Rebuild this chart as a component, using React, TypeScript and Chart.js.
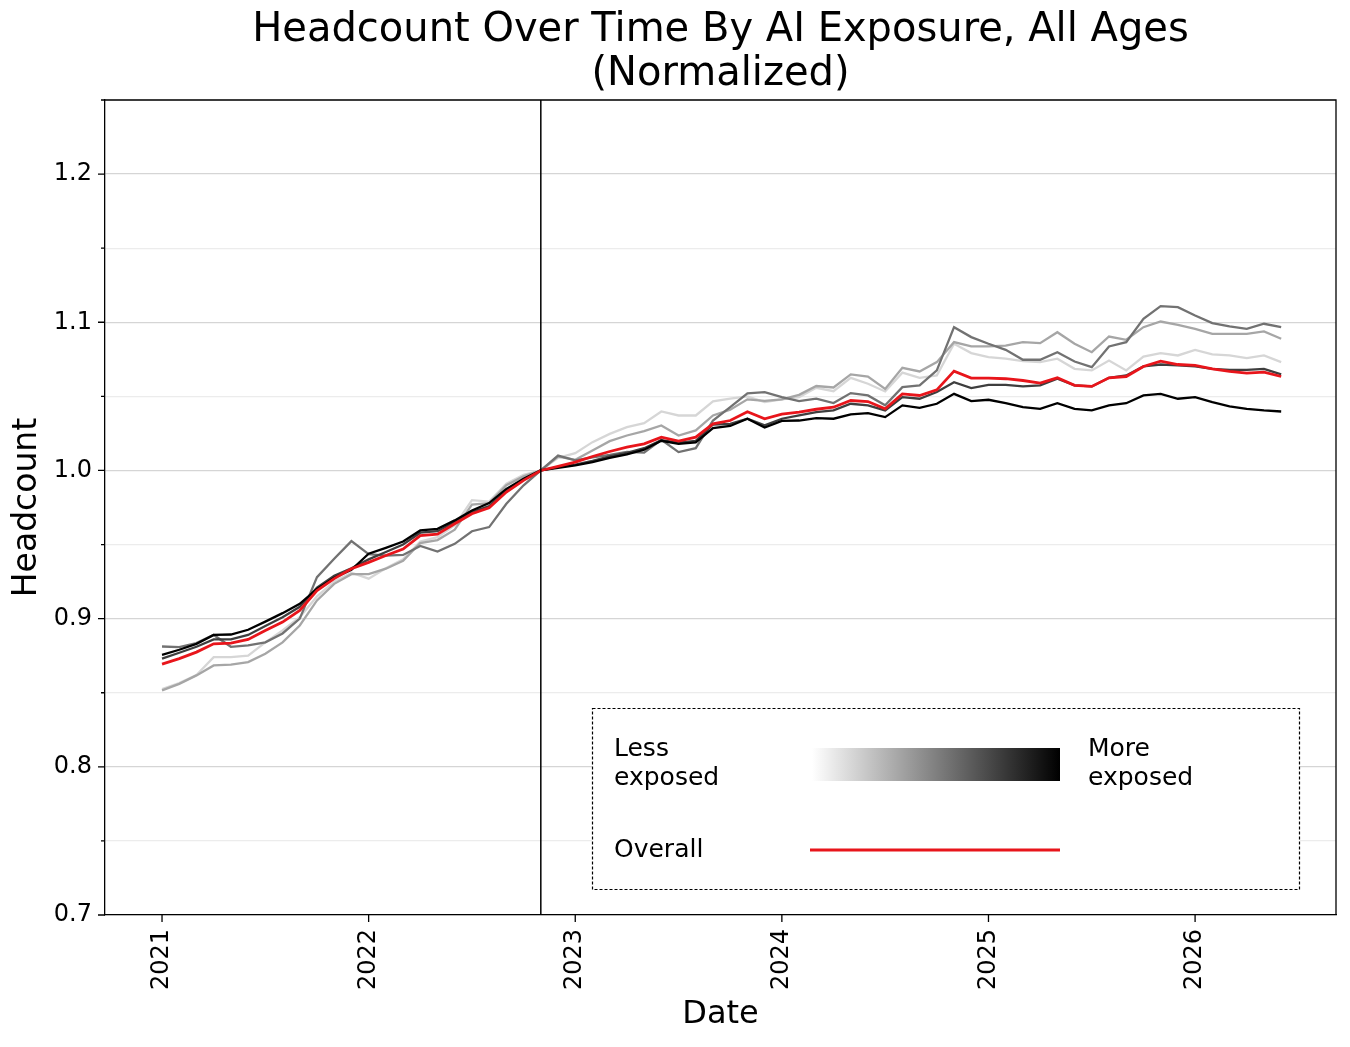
import { useEffect, useRef } from "react"
import { Chart, registerables } from "chart.js"

Chart.register(...registerables)

const FONT = "DejaVu Sans"

const TITLE = ["Headcount Over Time By AI Exposure, All Ages", "(Normalized)"]
const X_TITLE = "Date"
const Y_TITLE = "Headcount"
const LEGEND_LESS = ["Less", "exposed"]
const LEGEND_MORE = ["More", "exposed"]
const LEGEND_OVERALL = "Overall"

// monthly points, Jan 2021 .. Jun 2026
const MONTHS = Array.from(
  { length: 66 },
  (_, i) => `${2021 + Math.floor(i / 12)}-${String((i % 12) + 1).padStart(2, "0")}`
)
const BASE_MONTH = "2022-11" // everything normalized to 1.0 here
const YEAR_TICKS = [2021, 2022, 2023, 2024, 2025, 2026]
const Y_TICKS = [0.7, 0.75, 0.8, 0.85, 0.9, 0.95, 1.0, 1.05, 1.1, 1.15, 1.2, 1.25]
const Y_TICK_LABELS = ["0.7", "", "0.8", "", "0.9", "", "1.0", "", "1.1", "", "1.2", ""]

// exposure groups, least exposed first
const EXPOSURE_1 = [
  0.8525, 0.8565, 0.862, 0.874, 0.874, 0.875, 0.884, 0.892, 0.901, 0.915, 0.925, 0.931,
  0.927, 0.934, 0.94, 0.952, 0.955, 0.963, 0.98, 0.979, 0.991, 0.997, 1.0,
  1.0085, 1.0117, 1.0191, 1.0247, 1.0292, 1.0319, 1.0398, 1.0371, 1.0371, 1.0466, 1.0484, 1.05,
  1.0461, 1.0479, 1.0495, 1.0558, 1.0535, 1.0625, 1.0585, 1.0533, 1.066, 1.0625, 1.0642, 1.0855,
  1.0792, 1.0765, 1.0754, 1.0738, 1.0731, 1.0754, 1.0686, 1.0675, 1.0742, 1.0675, 1.0769, 1.0792,
  1.0776, 1.0814, 1.0783, 1.0776, 1.0758, 1.0776, 1.0731,
]
const EXPOSURE_2 = [
  0.8516, 0.856, 0.8617, 0.8684, 0.869, 0.8707, 0.8763, 0.884, 0.8954, 0.9123, 0.9235, 0.93,
  0.93, 0.9337, 0.939, 0.951, 0.953, 0.96, 0.977, 0.978, 0.99, 0.996, 1.0,
  1.0094, 1.0072, 1.0135, 1.0198, 1.0236, 1.0265, 1.0304, 1.0236, 1.027, 1.0371, 1.041, 1.048,
  1.047, 1.048, 1.051, 1.057, 1.056, 1.0648, 1.0634, 1.055, 1.0693, 1.0668, 1.0731, 1.0866,
  1.0837, 1.0837, 1.0843, 1.0866, 1.0859, 1.0933, 1.0855, 1.0798, 1.0904, 1.0882, 1.0967, 1.1005,
  1.0983, 1.0956, 1.0922, 1.0922, 1.0922, 1.0938, 1.0889,
]
const EXPOSURE_3 = [
  0.8812, 0.8808, 0.8835, 0.889, 0.881, 0.882, 0.884, 0.89, 0.9, 0.928, 0.9404, 0.9523,
  0.9435, 0.9425, 0.943, 0.949, 0.9453, 0.9505, 0.959, 0.9618, 0.9775, 0.99, 1.0,
  1.01, 1.0068, 1.0088, 1.0105, 1.0125, 1.012, 1.0207, 1.0124, 1.015, 1.0337, 1.0427, 1.052,
  1.0529, 1.0495, 1.0468, 1.0484, 1.0455, 1.0522, 1.0506, 1.044, 1.0562, 1.0574, 1.0675, 1.0967,
  1.09, 1.0855, 1.0814, 1.0747, 1.0747, 1.0798, 1.0735, 1.0697, 1.0837, 1.0866, 1.1023, 1.1109,
  1.1102, 1.1046, 1.0994, 1.0972, 1.0956, 1.099, 1.0967,
]
const EXPOSURE_4 = [
  0.873, 0.877, 0.881, 0.886, 0.886, 0.889, 0.895, 0.901, 0.908, 0.921, 0.929, 0.934,
  0.94, 0.945, 0.95, 0.958, 0.959, 0.965, 0.972, 0.976, 0.986, 0.994, 1.0,
  1.0022, 1.004, 1.0064, 1.0095, 1.0118, 1.015, 1.0205, 1.0188, 1.02, 1.031, 1.0315, 1.0349,
  1.0304, 1.0349, 1.0371, 1.0394, 1.0405, 1.045, 1.0439, 1.0405, 1.0495, 1.0484, 1.0529, 1.0596,
  1.0556, 1.0578, 1.0578, 1.0567, 1.0574, 1.0619, 1.0574, 1.0567, 1.0625, 1.0641, 1.0702, 1.0715,
  1.0709, 1.0702, 1.0686, 1.0679, 1.0679, 1.0686, 1.0648,
]
const EXPOSURE_5 = [
  0.8756, 0.879, 0.883, 0.889, 0.8893, 0.8925, 0.898, 0.9037, 0.91, 0.92, 0.9276, 0.933,
  0.9438, 0.9478, 0.952, 0.9595, 0.9606, 0.9663, 0.973, 0.978, 0.9876, 0.9944, 1.0,
  1.0018, 1.0034, 1.0056, 1.0085, 1.0108, 1.014, 1.02, 1.018, 1.019, 1.0285, 1.03, 1.0349,
  1.029, 1.0335, 1.0337, 1.0353, 1.0349, 1.0378, 1.0387, 1.036, 1.0439, 1.0423, 1.045, 1.0517,
  1.0468, 1.0477, 1.0454, 1.0427, 1.0416, 1.0454, 1.0416, 1.0405, 1.0439, 1.0454, 1.0506, 1.0517,
  1.0484, 1.0495, 1.0461, 1.0432, 1.0416, 1.0405, 1.0398,
]
const OVERALL = [
  0.8693, 0.873, 0.8774, 0.883, 0.8835, 0.886, 0.892, 0.8977, 0.9055, 0.919, 0.927, 0.9337,
  0.938, 0.9426, 0.947, 0.956, 0.957, 0.964, 0.9708, 0.9748, 0.9854, 0.9933, 1.0,
  1.0027, 1.0056, 1.0094, 1.0128, 1.0157, 1.018, 1.0225, 1.0198, 1.0225, 1.0315, 1.0337, 1.0396,
  1.0349, 1.038, 1.0394, 1.0413, 1.0427, 1.0472, 1.0465, 1.0416, 1.0517, 1.0506, 1.0544, 1.067,
  1.0623, 1.0623, 1.0619, 1.0607, 1.059, 1.0625, 1.0574, 1.0567, 1.0625, 1.0634, 1.0702, 1.0738,
  1.0715, 1.0709, 1.0686, 1.0668, 1.0657, 1.0664, 1.0634,
]

const GREYS = ["#d6d6d6", "#a6a6a6", "#727272", "#3e3e3e", "#000000"]
const RED = "#e8151b"

const toYear = (m: string) => Number(m.slice(0, 4)) + (Number(m.slice(5, 7)) - 1) / 12
const isMajor = (v: number) => Math.abs(v * 10 - Math.round(v * 10)) < 1e-6

function series(values: number[]) {
  return values.map((y, i) => ({ x: toYear(MONTHS[i]), y }))
}

const decorPlugin = {
  id: "decor",
  afterDatasetsDraw(chart: any) {
    const { ctx, chartArea: a, scales } = chart
    const bx = scales.x.getPixelForValue(toYear(BASE_MONTH))
    ctx.save()
    ctx.strokeStyle = "#000"
    ctx.lineWidth = 1.5
    ctx.beginPath()
    ctx.moveTo(bx, a.top)
    ctx.lineTo(bx, a.bottom)
    ctx.stroke()
    ctx.restore()
  },
  afterDraw(chart: any) {
    const { ctx, chartArea: a, scales } = chart
    const cx = (a.left + a.right) / 2
    ctx.save()

    // top/right spines
    ctx.strokeStyle = "#000"
    ctx.lineWidth = 1.3
    ctx.beginPath()
    ctx.moveTo(a.left, a.top)
    ctx.lineTo(a.right, a.top)
    ctx.lineTo(a.right, a.bottom)
    ctx.stroke()

    // tick marks
    ctx.beginPath()
    Y_TICKS.forEach((v) => {
      const py = scales.y.getPixelForValue(v)
      ctx.moveTo(a.left - (isMajor(v) ? 7 : 4), py)
      ctx.lineTo(a.left, py)
    })
    YEAR_TICKS.forEach((v) => {
      const px = scales.x.getPixelForValue(v)
      ctx.moveTo(px, a.bottom)
      ctx.lineTo(px, a.bottom + 7)
    })
    ctx.stroke()

    // titles
    ctx.fillStyle = "#000"
    ctx.textAlign = "center"
    ctx.textBaseline = "middle"
    ctx.font = `40px "${FONT}"`
    ctx.fillText(TITLE[0], cx, 31)
    ctx.fillText(TITLE[1], cx, 75)
    ctx.font = `32px "${FONT}"`
    ctx.fillText(X_TITLE, cx, 1015)
    ctx.save()
    ctx.translate(27, (a.top + a.bottom) / 2)
    ctx.rotate(-Math.PI / 2)
    ctx.font = `33px "${FONT}"`
    ctx.fillText(Y_TITLE, 0, 0)
    ctx.restore()

    // legend box
    ctx.fillStyle = "#fff"
    ctx.fillRect(592, 708, 708, 182)
    ctx.setLineDash([3, 2])
    ctx.lineWidth = 1.2
    ctx.strokeStyle = "#000"
    ctx.strokeRect(592.5, 708.5, 707, 181)
    ctx.setLineDash([])

    ctx.fillStyle = "#000"
    ctx.textAlign = "left"
    ctx.font = `25px "${FONT}"`
    ctx.fillText(LEGEND_LESS[0], 614, 749)
    ctx.fillText(LEGEND_LESS[1], 614, 778)
    ctx.fillText(LEGEND_MORE[0], 1088, 749)
    ctx.fillText(LEGEND_MORE[1], 1088, 778)
    ctx.fillText(LEGEND_OVERALL, 614, 850)

    const grad = ctx.createLinearGradient(812, 0, 1060, 0)
    grad.addColorStop(0, "#ffffff")
    grad.addColorStop(1, "#000000")
    ctx.fillStyle = grad
    ctx.fillRect(812, 748, 248, 33)

    ctx.strokeStyle = RED
    ctx.lineWidth = 3
    ctx.beginPath()
    ctx.moveTo(810, 850)
    ctx.lineTo(1060, 850)
    ctx.stroke()

    ctx.restore()
  },
}

export default function App() {
  const chartRef = useRef<HTMLCanvasElement>(null)
  const chartInstance = useRef<Chart | null>(null)

  useEffect(() => {
    if (!chartRef.current) return
    if (chartInstance.current) chartInstance.current.destroy()

    const ctx = chartRef.current.getContext("2d")
    if (!ctx) return

    Chart.defaults.font.family = FONT
    Chart.defaults.color = "#000"

    const groups = [EXPOSURE_1, EXPOSURE_2, EXPOSURE_3, EXPOSURE_4, EXPOSURE_5]

    chartInstance.current = new Chart(ctx, {
      type: "line",
      data: {
        datasets: [
          {
            label: "Overall",
            data: series(OVERALL),
            borderColor: RED,
            borderWidth: 2.8,
            order: 0,
          },
          ...groups.map((g, i) => ({
            label: `Exposure ${i + 1}`,
            data: series(g),
            borderColor: GREYS[i],
            borderWidth: 2.3,
            order: groups.length - i,
          })),
        ],
      },
      options: {
        animation: false,
        responsive: false,
        events: [],
        layout: { padding: { top: 100, right: 14, left: 0, bottom: 0 } },
        elements: { point: { radius: 0 }, line: { tension: 0 } },
        plugins: {
          legend: { display: false },
          tooltip: { enabled: false },
        },
        scales: {
          x: {
            type: "linear",
            min: 2020.724,
            max: 2026.682,
            afterBuildTicks: (s: any) => {
              s.ticks = YEAR_TICKS.map((v) => ({ value: v }))
            },
            afterFit: (s: any) => {
              s.height = 132
            },
            grid: { display: false, drawTicks: false },
            border: { color: "#000", width: 1.3 },
            ticks: {
              minRotation: 90,
              maxRotation: 90,
              autoSkip: false,
              padding: 14,
              font: { size: 24 },
              color: "#000",
              callback: (v: any) => String(v),
            },
          },
          y: {
            type: "linear",
            min: 0.7,
            max: 1.25,
            afterBuildTicks: (s: any) => {
              s.ticks = Y_TICKS.map((v) => ({ value: v }))
            },
            afterFit: (s: any) => {
              s.width = 105
            },
            grid: {
              drawTicks: false,
              lineWidth: 1.3,
              color: (c: any) => (isMajor(c.tick.value) ? "#d5d5d5" : "#ececec"),
            },
            border: { color: "#000", width: 1.3 },
            ticks: {
              padding: 13,
              font: { size: 24 },
              color: "#000",
              callback: (_v: any, i: number) => Y_TICK_LABELS[i],
            },
          },
        },
      },
      plugins: [decorPlugin],
    })

    return () => {
      if (chartInstance.current) {
        chartInstance.current.destroy()
        chartInstance.current = null
      }
    }
  }, [])

  return (
    <div style={{ position: "absolute", left: 0, top: 0, width: 1350, height: 1047, background: "#fff" }}>
      <canvas ref={chartRef} width={1350} height={1047} />
    </div>
  )
}
